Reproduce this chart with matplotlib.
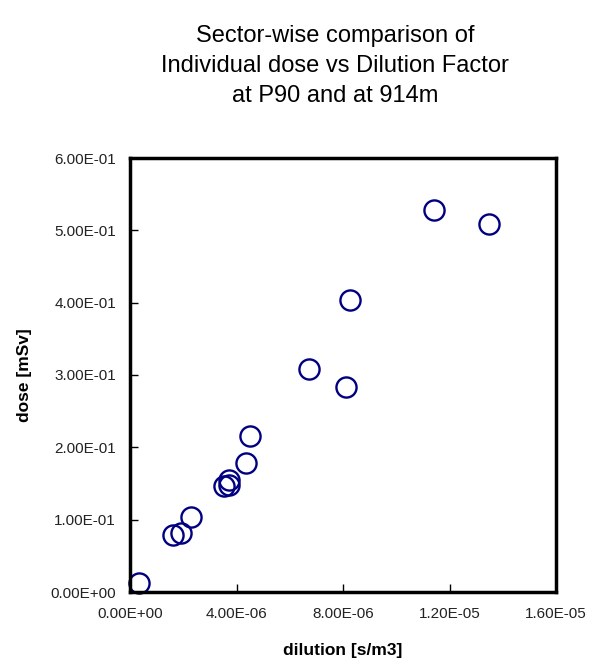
import matplotlib
matplotlib.use("Agg")
import matplotlib.pyplot as plt
from matplotlib.ticker import FixedLocator, FuncFormatter

plt.rcParams["font.family"] = ["Liberation Sans", "DejaVu Sans"]

# sector-wise values
dilution = [0.34e-6, 1.60e-6, 1.90e-6, 2.28e-6, 3.53e-6, 3.71e-6, 3.71e-6,
            4.36e-6, 4.52e-6, 6.74e-6, 8.12e-6, 8.25e-6, 11.4e-6, 13.47e-6]
dose = [0.012, 0.079, 0.081, 0.103, 0.146, 0.155, 0.148,
        0.178, 0.215, 0.308, 0.284, 0.403, 0.528, 0.509]

x_ticks = [0, 4e-6, 8e-6, 1.2e-5, 1.6e-5]
y_ticks = [0, 0.1, 0.2, 0.3, 0.4, 0.5, 0.6]


def sci(v, pos=None):
    # Excel-style 0.00E+00 labels
    mant, exp = f"{v:.2E}".split("E")
    return f"{mant}E{exp[0]}{exp[1:].zfill(2)}"


fig = plt.figure(figsize=(6.1, 6.71), dpi=100)
ax = fig.add_axes([130 / 610, 1 - 592 / 671, 426 / 610, 434 / 671])

ax.plot(dilution, dose, linestyle="none", marker="o", markersize=14.5,
        markerfacecolor="none", markeredgecolor="#000080", markeredgewidth=1.7,
        clip_on=False)

ax.set_xlim(0, 1.6e-5)
ax.set_ylim(0, 0.6)
ax.xaxis.set_major_locator(FixedLocator(x_ticks))
ax.yaxis.set_major_locator(FixedLocator(y_ticks))
ax.xaxis.set_major_formatter(FuncFormatter(sci))
ax.yaxis.set_major_formatter(FuncFormatter(sci))
ax.tick_params(direction="in", length=6, width=1, labelsize=11, colors="black",
               labelcolor="#222222")
ax.tick_params(axis="x", pad=11)
ax.tick_params(axis="y", pad=10)
for sp in ax.spines.values():
    sp.set_linewidth(2.5)

ax.set_xlabel("dilution [s/m3]", fontsize=12.5, fontweight="bold", va="center")
ax.xaxis.set_label_coords(0.5, (592 - 650) / 434)
ax.set_ylabel("dose [mSv]", fontsize=12.5, fontweight="bold", va="center")
ax.yaxis.set_label_coords((25 - 130) / 426, 0.5)

fig.text(335 / 610, 1 - 66 / 671,
         "Sector-wise comparison of\nIndividual dose vs Dilution Factor\nat P90 and at 914m",
         ha="center", va="center", fontsize=17, linespacing=1.47)

fig.savefig("out.png", dpi=100)
